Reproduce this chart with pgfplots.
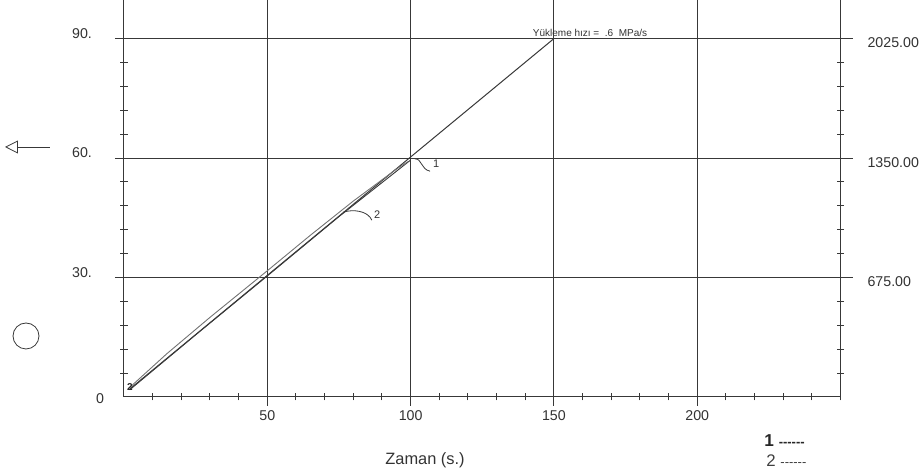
\documentclass[border=0pt]{standalone}
\usepackage{fontspec}
\setmainfont{Liberation Sans}
\usepackage{pgfplots}
\pgfplotsset{compat=1.18}
\usetikzlibrary{arrows.meta}
\definecolor{ink}{gray}{0.22}
\begin{document}
\begin{tikzpicture}[x=1pt,y=1pt]
\begin{axis}[
  at={(0,0)}, anchor=south west,
  scale only axis, width=358.25pt, height=198.5pt,
  xmin=0, xmax=250, ymin=0, ymax=99.7,
  axis x line*=bottom, axis y line*=left,
  axis line style={ink, line width=0.5pt, -},
  xtick={50,100,150,200}, minor xtick={10,20,...,250},
  ytick={30,60,90}, yticklabels={30.,60.,90.},
  minor ytick={6,12,...,84},
  tick align=center, major tick length=9pt, minor tick length=3.5pt,
  tick style={ink, line width=0.5pt},
  grid=major, major grid style={ink, line width=0.5pt},
  minor grid style={draw=none},
  tick label style={font=\fontsize{7.1}{8}\selectfont, text=black!80},
  yticklabel style={xshift=-8pt, yshift=2.5pt},
  xticklabel style={yshift=1pt},
  /pgf/number format/assume math mode=true,
  clip=false,
]
% reference loading-rate line
\addplot[ink, line width=0.5pt] coordinates {(2,2) (150,90)};
% specimen 1
\addplot[ink, line width=0.45pt] coordinates {(2,1.8) (25,15.6) (50,30.4) (75,45.3) (100,59.5)};
% specimen 2
\addplot[black!55, line width=0.45pt] coordinates {(2,2.4) (15,10.9) (30,20.0) (50,31.7) (65,40.6) (80,49.2) (95,57.2) (99,59.1)};

\node[font=\fontsize{5}{6}\selectfont, text=black!80, anchor=base] at (axis cs:162.6,90.6) {Yükleme hızı =\ \ .6\ \ MPa/s};
\draw[ink, line width=0.4pt] (axis cs:101.5,59.8) .. controls (axis cs:104,59.9) and (axis cs:103.5,57.2) .. (axis cs:106.8,56.7);
\node[font=\fontsize{5.5}{6}\selectfont, text=black!80] at (axis cs:108.9,58.5) {1};
\draw[ink, line width=0.4pt] (axis cs:76.4,46.4) .. controls (axis cs:80,47.2) and (axis cs:85,46.8) .. (axis cs:86.5,44.4);
\node[font=\fontsize{5.5}{6}\selectfont, text=black!80] at (axis cs:88.3,45.9) {2};
\node[font=\fontsize{5}{6}\selectfont\bfseries, text=black!85] at (axis cs:2.1,2.6) {2};
\end{axis}
\begin{axis}[
  at={(0,0)}, anchor=south west,
  scale only axis, width=358.25pt, height=198.5pt,
  xmin=0, xmax=250, ymin=0, ymax=2243.25,
  axis x line=none, axis y line*=right,
  axis line style={ink, line width=0.5pt, -},
  ytick={675,1350,2025}, yticklabels={675.00,1350.00,2025.00},
  minor ytick={135,270,...,1890},
  tick align=center, major tick length=12pt, minor tick length=3.5pt,
  tick style={ink, line width=0.5pt},
  yticklabel style={xshift=4pt, yshift=-2.2pt},
  tick label style={font=\fontsize{7.1}{8}\selectfont, text=black!80},
  /pgf/number format/assume math mode=true,
]
\end{axis}
\node[font=\fontsize{7.1}{8}\selectfont, text=black!80] at (-12,-1) {0};
\node[font=\fontsize{8.2}{10}\selectfont, text=black!80] at (150.5,-31.5) {Zaman (s.)};
\node[anchor=west, inner sep=0pt, text=black!85] at (320,-22) {\fontsize{8.6}{10}\selectfont\bfseries 1 \fontsize{6.5}{8}\selectfont -{}-{}-{}-{}-{}-};
\node[anchor=west, inner sep=0pt, text=black!75] at (321,-32) {\fontsize{8.4}{10}\selectfont 2 \fontsize{6.5}{8}\selectfont -{}-{}-{}-{}-{}-};
\draw[ink, line width=0.4pt, {Triangle[open,length=6.5pt,width=6.5pt]}-] (-59.5,125) -- (-37,125);
\draw[ink, line width=0.4pt] (-49,30.5) circle (6.5pt);
\pgfresetboundingbox
\useasboundingbox (-62,-39) rectangle (398,198.5);
\end{tikzpicture}
\end{document}
